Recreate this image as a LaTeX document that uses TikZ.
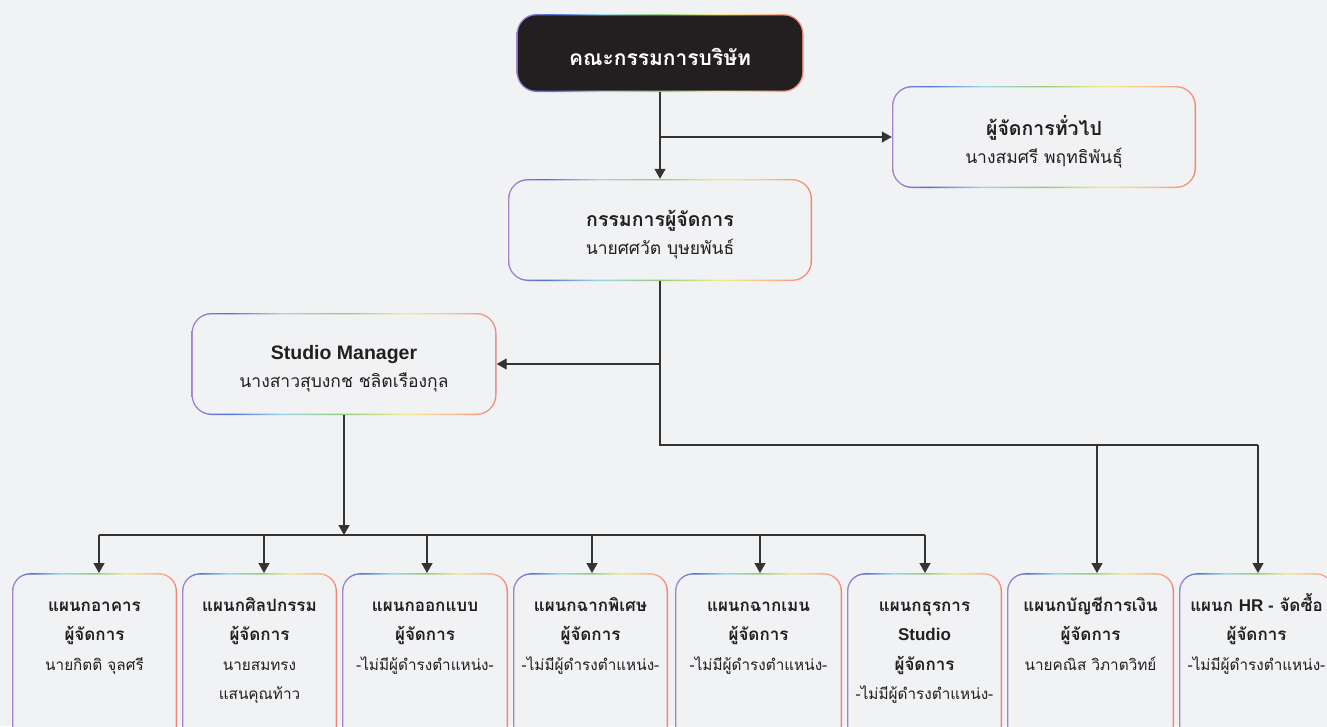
\documentclass[tikz,border=0pt]{standalone}
\usepackage{fontspec}
\setmainfont[Script=Thai]{Loma}
\newfontfamily\latf{Liberation Sans}
\usetikzlibrary{arrows.meta}
\definecolor{bg}{HTML}{F1F2F4}
\definecolor{ink}{HTML}{231F20}
\definecolor{lnc}{HTML}{333333}
\definecolor{rA}{HTML}{A483CF}
\definecolor{rB}{HTML}{4F72D2}
\definecolor{rC}{HTML}{9FD6E6}
\definecolor{rD}{HTML}{93CC7E}
\definecolor{rE}{HTML}{F3EC8E}
\definecolor{rF}{HTML}{F8BE92}
\definecolor{rG}{HTML}{EF8478}
\pgfdeclarehorizontalshading{rainbow}{100bp}{color(0bp)=(rA); color(25bp)=(rA); color(31bp)=(rB); color(40bp)=(rC); color(50bp)=(rD); color(60bp)=(rE); color(68bp)=(rF); color(75bp)=(rG); color(100bp)=(rG)}
\newcommand\ut[1]{{\fontsize{19.5}{28}\selectfont\bfseries #1}}
\newcommand\us[1]{{\fontsize{17.5}{28}\selectfont #1}}
\newcommand\tb[1]{{\fontsize{17}{29.5}\selectfont\bfseries #1}}
\newcommand\dtext[1]{\parbox[t][160pt][t]{150pt}{\centering\fontsize{15.3}{29.5}\selectfont\rule{0pt}{22pt}#1}}
\newcommand\utext[1]{\parbox[c][100pt][c]{296pt}{\centering\fontsize{17.5}{28}\selectfont\vspace*{10pt}#1}}
\tikzset{
  gbox/.style={rectangle, rounded corners=#1, fill=bg, inner sep=0pt, align=center, text=ink,
    path picture={
      \shade[shading=rainbow] (path picture bounding box.south west) rectangle (path picture bounding box.north east);
      \fill[boxin, rounded corners=#1-1.4pt] ([shift={(1.4pt,1.4pt)}]path picture bounding box.south west) rectangle ([shift={(-1.4pt,-1.4pt)}]path picture bounding box.north east);}},
  gbox/.default=20pt,
  boxin/.style={fill=bg},
  upbox/.style={gbox=20pt, minimum width=304pt, minimum height=102pt},
  depbox/.style={gbox=18pt, anchor=north, minimum height=170pt, inner ysep=16pt},
  link/.style={draw=lnc, line width=1.3pt},
  arr/.style={link, -{Triangle[width=11pt,length=10pt]}},
}
\begin{document}
\begin{tikzpicture}[x=1pt,y=-1pt]
\useasboundingbox (0,0) rectangle (1327,726);
\clip (0,0) rectangle (1327,726);
\fill[bg] (0,0) rectangle (1327,726);

\node[gbox=20pt, boxin/.style={fill=ink}, minimum width=287pt, minimum height=78pt, text=white, font=\fontsize{21}{24}\selectfont\bfseries] (board) at (660,53) {\parbox[c][76pt][c]{280pt}{\centering\vspace*{8pt}คณะกรรมการบริษัท}};
\node[upbox] (gm) at (1044,137) {\utext{\ut{ผู้จัดการทั่วไป}\\\us{นางสมศรี พฤทธิพันธุ์}}};
\node[upbox] (md) at (660,230) {\utext{\ut{กรรมการผู้จัดการ}\\\us{นายศศวัต บุษยพันธ์}}};
\node[upbox, minimum width=305pt] (sm) at (344,364) {\utext{\ut{\latf Studio Manager}\\\us{นางสาวสุบงกช ชลิตเรืองกุล}}};

\node[depbox, minimum width=165pt] (d1) at (94.5,573) {\dtext{\tb{แผนกอาคาร}\\\tb{ผู้จัดการ}\\นายกิตติ จุลศรี}};
\node[depbox, minimum width=155pt] (d2) at (259.5,573) {\dtext{\tb{แผนกศิลปกรรม}\\\tb{ผู้จัดการ}\\นายสมทรง\\แสนคุณท้าว}};
\node[depbox, minimum width=166pt] (d3) at (425,573) {\dtext{\tb{แผนกออกแบบ}\\\tb{ผู้จัดการ}\\-ไม่มีผู้ดำรงตำแหน่ง-}};
\node[depbox, minimum width=155pt] (d4) at (590.5,573) {\dtext{\tb{แผนกฉากพิเศษ}\\\tb{ผู้จัดการ}\\-ไม่มีผู้ดำรงตำแหน่ง-}};
\node[depbox, minimum width=167pt] (d5) at (758.5,573) {\dtext{\tb{แผนกฉากเมน}\\\tb{ผู้จัดการ}\\-ไม่มีผู้ดำรงตำแหน่ง-}};
\node[depbox, minimum width=155pt] (d6) at (924.5,573) {\dtext{\tb{แผนกธุรการ}\\\tb{\latf Studio}\\\tb{ผู้จัดการ}\\-ไม่มีผู้ดำรงตำแหน่ง-}};
\node[depbox, minimum width=167pt] (d7) at (1090.5,573) {\dtext{\tb{แผนกบัญชีการเงิน}\\\tb{ผู้จัดการ}\\นายคณิส วิภาตวิทย์}};
\node[depbox, minimum width=155pt] (d8) at (1256.5,573) {\dtext{\tb{แผนก {\latf HR -} จัดซื้อ}\\\tb{ผู้จัดการ}\\-ไม่มีผู้ดำรงตำแหน่ง-}};

% top connectors
\draw[arr] (board.south) -- (board.south |- md.north);
\coordinate (j1) at (board.south |- gm.west);
\draw[arr] (j1) -- (gm.west);
% from managing director
\coordinate (j2) at (md.south |- sm.east);
\coordinate (j3) at (660,445);
\coordinate (j4) at (1097,445);
\coordinate (j5) at (1258,445);
\draw[link] (md.south) -- (j3) -- (j5);
\draw[arr] (j2) -- (sm.east);
\draw[arr] (j4) -- (j4 |- d7.north);
\draw[arr] (j5) -- (j5 |- d8.north);
% from studio manager
\coordinate (b1) at (99,535);
\coordinate (b2) at (264,535);
\coordinate (b3) at (427,535);
\coordinate (b4) at (592,535);
\coordinate (b5) at (760,535);
\coordinate (b6) at (925,535);
\coordinate (bs) at (sm.south |- b1);
\draw[arr] (sm.south) -- (bs);
\draw[link] (b1) -- (b6);
\draw[arr] (b1) -- (b1 |- d1.north);
\draw[arr] (b2) -- (b2 |- d2.north);
\draw[arr] (b3) -- (b3 |- d3.north);
\draw[arr] (b4) -- (b4 |- d4.north);
\draw[arr] (b5) -- (b5 |- d5.north);
\draw[arr] (b6) -- (b6 |- d6.north);
\end{tikzpicture}
\end{document}
